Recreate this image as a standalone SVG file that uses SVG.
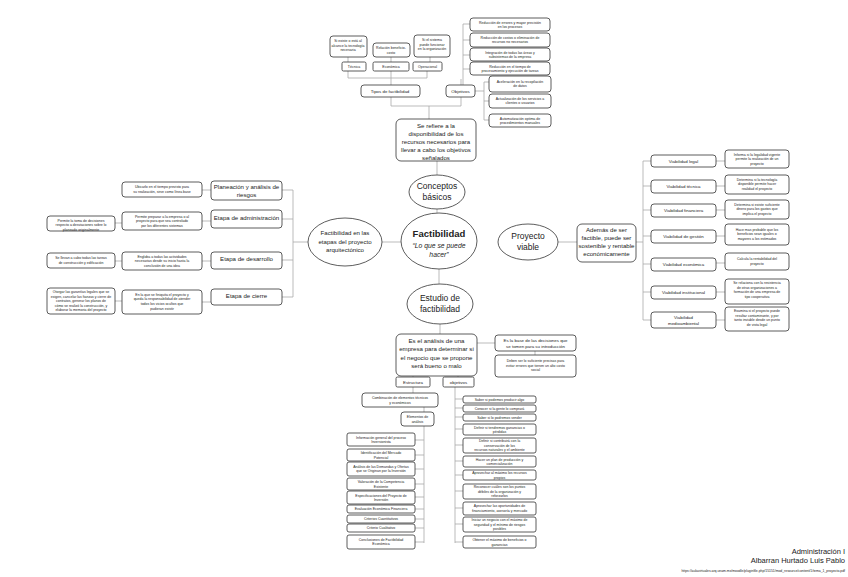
<svg xmlns="http://www.w3.org/2000/svg" width="848" height="577" viewBox="0 0 848 577">
<style>
text{font-family:"Liberation Sans",Arial,sans-serif;fill:#222;text-anchor:middle}
.b{fill:#fff;stroke:#333;stroke-width:0.8}
.c{fill:none;stroke:#aaa;stroke-width:0.8}
.t4{font-size:3.5px}.t5{font-size:4.4px}.t6{font-size:6.1px}.t8{font-size:8.5px}
</style>
<rect width="848" height="577" fill="#fff"/>
<g id="connectors">
<path class="c" d="M348 71V78H427V71M391 71V78M391 57V62M348 57V62M430 57V62M391 78V85M391 97V106H461V97M429 106V119M461 85V79M463 24V90H475M463 24H470M463 40H470M463 55H470M463 69H470M475 91H484M484 82V120M484 82H489M484 101H489M484 120H489"/>
<path class="c" d="M437 161V175M437 209V213M439 269V284M401 242H382M308 242H293M293 190V297M293 190H282M293 219H282M293 260H282M293 297H282M202 190H211M202 221H211M202 261H211M202 302H211M115 223H122M115 261H122M115 301H122"/>
<path class="c" d="M558 242H577M636 242H643M643 161V320M643 161H651M643 186H651M643 210H651M643 236H651M643 264H651M643 292H651M643 320H651M716 161H725M716 186H725M716 210H725M716 236H725M716 263H725M716 292H725M716 320H725"/>
<path class="c" d="M440 324V334M477 343H495M535 351V355M413 376V377M458 376V377M413 387V393M424 407V412M424 426V543M415 440H424M415 455H424M415 469H424M415 484H424M415 497H424M415 509H424M415 519H424M415 528H424M415 542H424M455 387V543M455 399H463M455 408H463M455 417H463M455 429H463M455 445H463M455 461H463M455 475H463M455 491H463M455 508H463M455 524H463M455 542H463"/>
</g>
<g id="n-top-small">
<rect class="b" x="330" y="36" width="37" height="21" rx="3"/><text class="t4" x="348" y="42">Si existe o está al<tspan x="348" dy="4.5">alcance la tecnología</tspan><tspan x="348" dy="4.5">necesaria</tspan></text>
<rect class="b" x="373" y="43" width="37" height="14" rx="3"/><text class="t4" x="391" y="49">Relación beneficio-<tspan x="391" dy="4.5">costo</tspan></text>
<rect class="b" x="414" y="35" width="36" height="22" rx="3"/><text class="t4" x="432" y="41">Si el sistema<tspan x="432" dy="4.5">puede funcionar</tspan><tspan x="432" dy="4.5">en la organización</tspan></text>
<rect class="b" x="342" y="62" width="24" height="9" rx="1.5"/><text class="t4" x="354" y="68">Técnica</text>
<rect class="b" x="373" y="62" width="36" height="9" rx="1.5"/><text class="t4" x="391" y="68">Económica</text>
<rect class="b" x="413" y="62" width="29" height="9" rx="1.5"/><text class="t4" x="427.5" y="68">Operacional</text>
</g>
<g id="n-tipos"><rect class="b" x="361" y="85" width="59" height="12" rx="3"/><text class="t5" x="390" y="92.5">Tipos de factibilidad</text></g>
<g id="n-objetivos"><rect class="b" x="446" y="85" width="29" height="12" rx="3"/><text class="t5" x="460.5" y="92.5">Objetivos</text></g>
<g id="n-obj-list">
<rect class="b" x="470" y="18" width="80" height="13" rx="3"/><text class="t4" x="510" y="23.5">Reducción de errores y mayor precisión<tspan x="510" dy="4.5">en los procesos</tspan></text>
<rect class="b" x="470" y="33" width="80" height="14" rx="3"/><text class="t4" x="510" y="38.5">Reducción de costos o eliminación de<tspan x="510" dy="4.5">recursos no necesarios</tspan></text>
<rect class="b" x="470" y="48" width="80" height="13" rx="3"/><text class="t4" x="510" y="53.5">Integración de todas las áreas y<tspan x="510" dy="4.5">subsistemas de la empresa</tspan></text>
<rect class="b" x="470" y="62" width="80" height="13" rx="3"/><text class="t4" x="510" y="67.5">Reducción en el tiempo de<tspan x="510" dy="4.5">procesamiento y ejecución de tareas</tspan></text>
<rect class="b" x="489" y="76" width="62" height="16" rx="3"/><text class="t4" x="520" y="82.5">Aceleración en la recopilación<tspan x="520" dy="4.5">de datos</tspan></text>
<rect class="b" x="489" y="94" width="62" height="14" rx="3"/><text class="t4" x="520" y="99.5">Actualización de los servicios a<tspan x="520" dy="4.5">clientes o usuarios</tspan></text>
<rect class="b" x="489" y="114" width="62" height="13" rx="3"/><text class="t4" x="520" y="119.5">Automatización optima de<tspan x="520" dy="4.5">procedimientos manuales</tspan></text>
</g>
<g id="n-refiere"><rect class="b" x="396" y="119" width="80" height="42" rx="5"/><text class="t6" x="436" y="127.5">Se refiere a la<tspan x="436" dy="8">disponibilidad de los</tspan><tspan x="436" dy="8">recursos necesarios para</tspan><tspan x="436" dy="8">llevar a cabo los objetivos</tspan><tspan x="436" dy="8">señalados</tspan></text></g>
<g id="n-conceptos"><ellipse class="b" cx="437" cy="192" rx="28" ry="17"/><text class="t8" x="437" y="189">Conceptos<tspan x="437" dy="11">básicos</tspan></text></g>
<g id="n-factibilidad"><ellipse class="b" cx="439" cy="241" rx="38" ry="28"/><text x="439" y="237" style="font-size:9.5px;font-weight:bold">Factibilidad</text><text x="439" y="248" style="font-size:6.8px;font-style:italic">“Lo que se puede<tspan x="439" dy="9">hacer”</tspan></text></g>
<g id="n-etapas"><ellipse class="b" cx="345" cy="242" rx="37" ry="24"/><text class="t6" x="345" y="235">Factibilidad en las<tspan x="345" dy="8.5">etapas del proyecto</tspan><tspan x="345" dy="8.5">arquitectónico</tspan></text></g>
<g id="n-viable"><ellipse class="b" cx="528" cy="242" rx="30" ry="18"/><text class="t8" x="528" y="239">Proyecto<tspan x="528" dy="11">viable</tspan></text></g>
<g id="n-estudio"><ellipse class="b" cx="440" cy="304" rx="33" ry="20"/><text class="t8" x="440" y="301">Estudio de<tspan x="440" dy="11">factibilidad</tspan></text></g>
<g id="n-left">
<rect class="b" x="211" y="181" width="71" height="19" rx="3"/><text class="t6" x="246.5" y="188.5">Planeación y análisis de<tspan x="246.5" dy="8">riesgos</tspan></text>
<rect class="b" x="211" y="210" width="71" height="18" rx="3"/><text class="t6" x="246.5" y="220">Etapa de administración</text>
<rect class="b" x="211" y="252" width="71" height="17" rx="3"/><text class="t6" x="246.5" y="261">Etapa de desarrollo</text>
<rect class="b" x="211" y="289" width="71" height="16" rx="3"/><text class="t6" x="246.5" y="298">Etapa de cierre</text>
<rect class="b" x="122" y="182" width="80" height="15" rx="3"/><text class="t4" x="162" y="188">Ubicarlo en el tiempo previsto para<tspan x="162" dy="4.7">su realización, sirve como línea base</tspan></text>
<rect class="b" x="122" y="212" width="80" height="18" rx="3"/><text class="t4" x="162" y="217.5">Permite preparar a la empresa o al<tspan x="162" dy="4.7">proyecto para que sea controlado</tspan><tspan x="162" dy="4.7">por los diferentes sistemas</tspan></text>
<rect class="b" x="122" y="252" width="80" height="18" rx="3"/><text class="t4" x="162" y="257.5">Engloba a todas las actividades<tspan x="162" dy="4.7">necesarias desde su inicio hasta la</tspan><tspan x="162" dy="4.7">conclusión de una idea</tspan></text>
<rect class="b" x="122" y="290" width="80" height="24" rx="3"/><text class="t4" x="162" y="295.5">En la que se finiquita el proyecto y<tspan x="162" dy="4.7">queda la responsabilidad de atender</tspan><tspan x="162" dy="4.7">todos los vicios ocultos que</tspan><tspan x="162" dy="4.7">pudieran existir</tspan></text>
<rect class="b" x="47" y="216" width="68" height="15" rx="3"/><text class="t4" x="81" y="221.5">Permite la toma de decisiones<tspan x="81" dy="4.5">respecto a desviaciones sobre lo</tspan><tspan x="81" dy="4.5">planeado originalmente</tspan></text>
<rect class="b" x="47" y="253" width="68" height="15" rx="3"/><text class="t4" x="81" y="259">Se llevan a cabo todas las tareas<tspan x="81" dy="4.7">de construcción y edificación</tspan></text>
<rect class="b" x="47" y="288" width="68" height="26" rx="3"/><text class="t4" x="81" y="293">Otorgar las garantías legales que se<tspan x="81" dy="4.5">exigen, cancelar las fianzas y cierre de</tspan><tspan x="81" dy="4.5">contratos, generar los planos de</tspan><tspan x="81" dy="4.5">cómo se realizó la construcción, y</tspan><tspan x="81" dy="4.5">elaborar la memoria del proyecto</tspan></text>
</g>
<g id="n-right">
<rect class="b" x="577" y="224" width="59" height="38" rx="5"/><text class="t6" x="606.5" y="232">Además de ser<tspan x="606.5" dy="8">factible, puede ser</tspan><tspan x="606.5" dy="8">sostenible y rentable</tspan><tspan x="606.5" dy="8">económicamente</tspan></text>
<rect class="b" x="651" y="155" width="65" height="12" rx="3"/><text class="t5" x="683.5" y="162.5">Viabilidad legal</text>
<rect class="b" x="651" y="180" width="65" height="13" rx="3"/><text class="t5" x="683.5" y="188">Viabilidad técnica</text>
<rect class="b" x="651" y="204" width="65" height="13" rx="3"/><text class="t5" x="683.5" y="212">Viabilidad financiera</text>
<rect class="b" x="651" y="230" width="65" height="13" rx="3"/><text class="t5" x="683.5" y="238">Viabilidad de gestión</text>
<rect class="b" x="651" y="258" width="65" height="13" rx="3"/><text class="t5" x="683.5" y="266">Viabilidad económica</text>
<rect class="b" x="651" y="286" width="65" height="13" rx="3"/><text class="t5" x="683.5" y="294">Viabilidad institucional</text>
<rect class="b" x="651" y="312" width="65" height="16" rx="3"/><text class="t5" x="683.5" y="318.5">Viabilidad<tspan x="683.5" dy="6">medioambiental</tspan></text>
<rect class="b" x="725" y="150" width="64" height="18" rx="3"/><text class="t4" x="757" y="155.5">Informa si la legalidad vigente<tspan x="757" dy="4.7">permite la realización de un</tspan><tspan x="757" dy="4.7">proyecto</tspan></text>
<rect class="b" x="725" y="175" width="64" height="19" rx="3"/><text class="t4" x="757" y="180.5">Determina si la tecnología<tspan x="757" dy="4.7">disponible permite hacer</tspan><tspan x="757" dy="4.7">realidad el proyecto</tspan></text>
<rect class="b" x="725" y="200" width="64" height="19" rx="3"/><text class="t4" x="757" y="205.5">Determina si existe suficiente<tspan x="757" dy="4.7">dinero para los gastos que</tspan><tspan x="757" dy="4.7">implica el proyecto</tspan></text>
<rect class="b" x="725" y="224" width="64" height="21" rx="3"/><text class="t4" x="757" y="230.5">Hace mas probable que los<tspan x="757" dy="4.7">beneficios sean iguales o</tspan><tspan x="757" dy="4.7">mayores a los estimados</tspan></text>
<rect class="b" x="725" y="253" width="64" height="17" rx="3"/><text class="t4" x="757" y="260">Calcula la rentabilidad del<tspan x="757" dy="4.7">proyecto</tspan></text>
<rect class="b" x="725" y="279" width="64" height="25" rx="3"/><text class="t4" x="757" y="284">Se relaciona con la resistencia<tspan x="757" dy="4.7">de otras organizaciones a</tspan><tspan x="757" dy="4.7">formación de una empresa de</tspan><tspan x="757" dy="4.7">tipo cooperativa</tspan></text>
<rect class="b" x="725" y="307" width="64" height="24" rx="3"/><text class="t4" x="757" y="312">Examina si el proyecto puede<tspan x="757" dy="4.7">resultar contaminante, y por</tspan><tspan x="757" dy="4.7">tanto inviable desde un punto</tspan><tspan x="757" dy="4.7">de vista legal</tspan></text>
</g>
<g id="n-analisis">
<rect class="b" x="396" y="334" width="81" height="42" rx="5"/><text class="t6" x="436.5" y="342.5">Es el análisis de una<tspan x="436.5" dy="8.5">empresa para determinar si</tspan><tspan x="436.5" dy="8.5">el negocio que se propone</tspan><tspan x="436.5" dy="8.5">será bueno o malo</tspan></text>
<rect class="b" x="495" y="335" width="81" height="16" rx="3"/><text class="t5" x="535.5" y="341.5">Es la base de las decisiones que<tspan x="535.5" dy="6">se tomen para su introducción</tspan></text>
<rect class="b" x="495" y="355" width="81" height="22" rx="3"/><text class="t4" x="535.5" y="362">Deben ser lo suficiente precisas para<tspan x="535.5" dy="4.7">evitar errores que tienen un alto costo</tspan><tspan x="535.5" dy="4.7">social</tspan></text>
<rect class="b" x="396" y="377" width="34" height="10" rx="1.5"/><text class="t5" x="413" y="383.5">Estructura</text>
<rect class="b" x="443" y="377" width="31" height="10" rx="1.5"/><text class="t5" x="458.5" y="383.5">objetivos</text>
</g>
<g id="n-estructura">
<rect class="b" x="362" y="393" width="76" height="14" rx="3"/><text class="t4" x="400" y="399">Combinación de elementos técnicos<tspan x="400" dy="4.7">y económicos</tspan></text>
<rect class="b" x="401" y="412" width="33" height="14" rx="3"/><text class="t4" x="417.5" y="418">Elementos de<tspan x="417.5" dy="4.7">análisis</tspan></text>
<rect class="b" x="347" y="433" width="68" height="13" rx="2"/><text class="t4" x="381" y="438.5">Información general del proceso<tspan x="381" dy="4.5">Inversionista</tspan></text>
<rect class="b" x="347" y="449" width="68" height="12" rx="2"/><text class="t4" x="381" y="454">Identificación del Mercado<tspan x="381" dy="4.5">Potencial</tspan></text>
<rect class="b" x="347" y="462" width="68" height="14" rx="2"/><text class="t4" x="381" y="467.5">Análisis de las Demandas y Ofertas<tspan x="381" dy="4.5">que se Originan por la Inversión</tspan></text>
<rect class="b" x="347" y="478" width="68" height="12" rx="2"/><text class="t4" x="381" y="483">Valoración de la Competencia<tspan x="381" dy="4.5">Existente</tspan></text>
<rect class="b" x="347" y="491" width="68" height="13" rx="2"/><text class="t4" x="381" y="496.5">Especificaciones del Proyecto de<tspan x="381" dy="4.5">Inversión</tspan></text>
<rect class="b" x="347" y="505" width="68" height="8" rx="2"/><text class="t4" x="381" y="510.3">Evaluación Económica Financiera</text>
<rect class="b" x="347" y="515" width="68" height="8" rx="2"/><text class="t4" x="381" y="520.3">Criterios Cuantitativos</text>
<rect class="b" x="347" y="524" width="68" height="8" rx="2"/><text class="t4" x="381" y="529.3">Criterio Cualitativo</text>
<rect class="b" x="347" y="535" width="68" height="14" rx="2"/><text class="t4" x="381" y="540.5">Conclusiones de Factibilidad<tspan x="381" dy="4.5">Económica</tspan></text>
</g>
<g id="n-objetivos-list">
<rect class="b" x="463" y="396" width="73" height="7" rx="2"/><text class="t4" x="499.5" y="400.8">Saber si podemos producir algo</text>
<rect class="b" x="463" y="405" width="73" height="7" rx="2"/><text class="t4" x="499.5" y="409.8">Conocer si la gente lo comprará</text>
<rect class="b" x="463" y="414" width="73" height="7" rx="2"/><text class="t4" x="499.5" y="418.8">Saber si lo podremos vender</text>
<rect class="b" x="463" y="424" width="73" height="11" rx="2"/><text class="t4" x="499.5" y="428.5">Definir si tendremos ganancias o<tspan x="499.5" dy="4.5">pérdidas</tspan></text>
<rect class="b" x="463" y="438" width="73" height="15" rx="2"/><text class="t4" x="499.5" y="442">Definir si contribuirá con la<tspan x="499.5" dy="4.5">conservación de los</tspan><tspan x="499.5" dy="4.5">recursos naturales y el ambiente</tspan></text>
<rect class="b" x="463" y="456" width="73" height="11" rx="2"/><text class="t4" x="499.5" y="460.5">Hacer un plan de producción y<tspan x="499.5" dy="4.5">comercialización</tspan></text>
<rect class="b" x="463" y="470" width="73" height="10" rx="2"/><text class="t4" x="499.5" y="474.3">Aprovechar al máximo los recursos<tspan x="499.5" dy="4.5">propios</tspan></text>
<rect class="b" x="463" y="484" width="73" height="15" rx="2"/><text class="t4" x="499.5" y="488">Reconocer cuáles son los puntos<tspan x="499.5" dy="4.5">débiles de la organización y</tspan><tspan x="499.5" dy="4.5">reforzarlos</tspan></text>
<rect class="b" x="463" y="502" width="73" height="13" rx="2"/><text class="t4" x="499.5" y="507">Aprovechar las oportunidades de<tspan x="499.5" dy="4.5">financiamiento, asesoría y mercado</tspan></text>
<rect class="b" x="463" y="517" width="73" height="15" rx="2"/><text class="t4" x="499.5" y="521">Iniciar un negocio con el máximo de<tspan x="499.5" dy="4.5">seguridad y el mínimo de riesgos</tspan><tspan x="499.5" dy="4.5">posibles</tspan></text>
<rect class="b" x="463" y="536" width="73" height="12" rx="2"/><text class="t4" x="499.5" y="541">Obtener el máximo de beneficios o<tspan x="499.5" dy="4.5">ganancias</tspan></text>
</g>
<g id="footer">
<text x="845" y="554" style="font-size:7.5px;text-anchor:end">Administración I</text>
<text x="845" y="563" style="font-size:7.5px;text-anchor:end">Albarran Hurtado Luis Pablo</text>
<text x="845" y="572" style="font-size:3.4px;text-anchor:end">https://aulavirtuales.arq.unam.mx/moodle/pluginfile.php/15151/mod_resource/content/1/tema_1_proyecto.pdf</text>
</g>
</svg>
